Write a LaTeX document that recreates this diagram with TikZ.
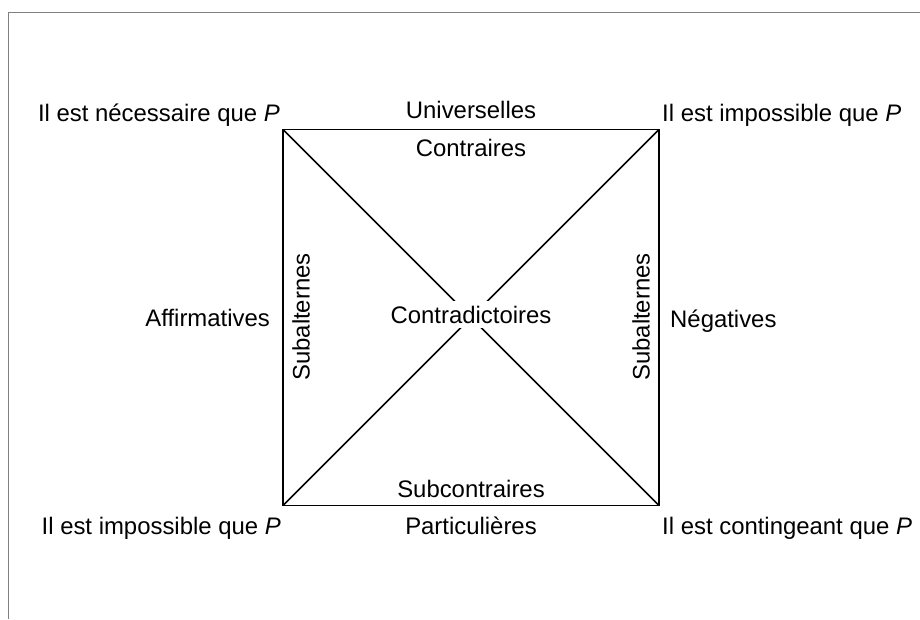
\documentclass[tikz,border=0pt]{standalone}
\usepackage{fontspec}
\setmainfont{Liberation Sans}
\begin{document}
\begin{tikzpicture}[x=1pt,y=-1pt,
  lab/.style={font=\fontsize{23.9}{29}\selectfont, inner sep=0pt},
  sq/.style={draw=black, line width=1.6pt},
  frame/.style={draw=black!50, line width=1pt}]
\useasboundingbox (0,0) rectangle (920,619);
\draw[frame] (8.5,619) -- (8.5,12.5) -- (920,12.5);
\coordinate (A) at (283,129.5);
\coordinate (B) at (659,129.5);
\coordinate (C) at (283,505.5);
\coordinate (D) at (659,505.5);
\draw[sq] (A) -- (B) -- (D) -- (C) -- cycle;
\draw[sq] (A) -- (D);
\draw[sq] (B) -- (C);
\node[lab, fill=white, inner sep=5pt, anchor=base] (ctr) at (471,323) {Contradictoires};
\node[lab, anchor=base east] (nec) at (280,121) {Il est nécessaire que \textit{P}};
\node[lab, anchor=base west] (imp1) at (662,121) {Il est impossible que \textit{P}};
\node[lab, anchor=base east] (imp2) at (281,534) {Il est impossible que \textit{P}};
\node[lab, anchor=base west] (cont) at (662,534) {Il est contingeant que \textit{P}};
\node[lab, anchor=base] (univ) at (471,118) {Universelles};
\node[lab, anchor=base] (contr) at (471,156) {Contraires};
\node[lab, anchor=base] (subc) at (471,497) {Subcontraires};
\node[lab, anchor=base] (part) at (471,534) {Particulières};
\node[lab, anchor=base east] (aff) at (270,326) {Affirmatives};
\node[lab, anchor=base west] (neg) at (670,327) {Négatives};
\node[lab, anchor=base, rotate=90] (subl) at (309.5,317) {Subalternes};
\node[lab, anchor=base, rotate=90] (subr) at (649.5,317) {Subalternes};
\end{tikzpicture}
\end{document}
